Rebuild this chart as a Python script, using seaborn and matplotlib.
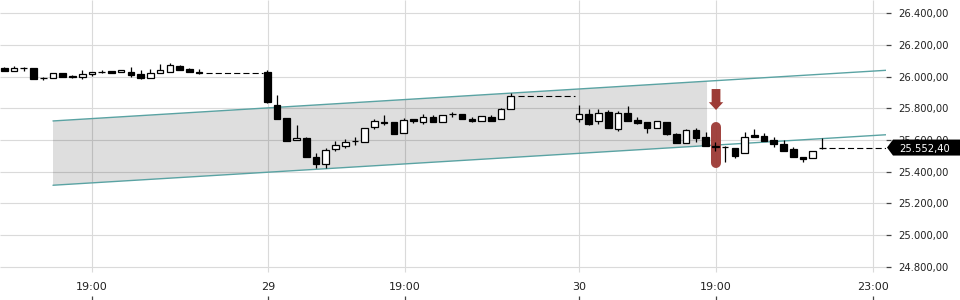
import numpy as np
import pandas as pd
import matplotlib
matplotlib.use("Agg")
import matplotlib.pyplot as plt
import matplotlib.transforms as mtransforms
from matplotlib.patches import Polygon
import seaborn as sns

# ---------------- data ----------------
# candle time slots (trading-time index, gaps = no trading)
slots = list(range(0, 21)) + list(range(27, 53)) + list(range(59, 85))

opens = [26055, 26034, 26055, 26051, 25990, 25988, 26020, 26005, 26000, 26016,
         26030, 26033, 26026, 26027, 26016, 25989, 26022, 26030, 26065, 26045, 26030,
         26026, 25820, 25738, 25598, 25610, 25491, 25447, 25541, 25560, 25592,
         25585, 25680, 25713, 25715, 25644, 25730, 25715, 25745, 25711, 25762,
         25762, 25732, 25721, 25745, 25730, 25793,
         25734, 25764, 25721, 25778, 25668, 25772, 25726, 25711, 25674, 25711,
         25638, 25583, 25663, 25617, 25560, 25558, 25552, 25516, 25631, 25625,
         25600, 25575, 25541, 25491, 25485, 25548]
highs = [26058, 26068, 26057, 26051, 25998, 26020, 26022, 26010, 26040, 26030,
         26038, 26036, 26044, 26060, 26038, 26045, 26080, 26083, 26075, 26051, 26045,
         26040, 25885, 25738, 25694, 25621, 25516, 25548, 25596, 25606, 25617,
         25674, 25730, 25757, 25715, 25736, 25730, 25762, 25759, 25755, 25778,
         25762, 25743, 25749, 25757, 25803, 25894,
         25820, 25795, 25795, 25789, 25782, 25814, 25743, 25711, 25721, 25711,
         25642, 25667, 25674, 25648, 25589, 25560, 25552, 25652, 25667, 25642,
         25617, 25600, 25558, 25491, 25533, 25611]
lows = [26032, 26034, 26032, 25986, 25980, 25988, 25996, 25990, 25985, 26005,
        26025, 26022, 26026, 26000, 25987, 25989, 26022, 26030, 26043, 26030, 26014,
        25830, 25734, 25596, 25598, 25495, 25422, 25422, 25533, 25552, 25570,
        25585, 25667, 25694, 25636, 25644, 25705, 25703, 25715, 25711, 25747,
        25730, 25711, 25721, 25721, 25730, 25793,
        25715, 25694, 25699, 25674, 25659, 25718, 25701, 25642, 25674, 25633,
        25583, 25579, 25589, 25564, 25533, 25460, 25489, 25516, 25617, 25596,
        25556, 25533, 25495, 25464, 25485, 25545]
closes = [26034, 26055, 26055, 25986, 25990, 26020, 25996, 25996, 26016, 26027,
          26030, 26024, 26041, 26008, 25989, 26020, 26038, 26070, 26043, 26030, 26020,
          25837, 25734, 25596, 25612, 25495, 25451, 25537, 25567, 25585, 25594,
          25674, 25718, 25705, 25636, 25728, 25718, 25743, 25715, 25755, 25762,
          25730, 25720, 25749, 25721, 25793, 25880,
          25764, 25701, 25772, 25674, 25772, 25721, 25709, 25677, 25721, 25640,
          25583, 25661, 25613, 25564, 25556, 25556, 25502, 25621, 25617, 25596,
          25575, 25533, 25495, 25479, 25533, 25552.4]

last_price = 25552.4
last_price_label = "25.552,40"

# trend channel (start slot, end slot, prices)
channel_slots = [5.0, 90.5]
channel_upper = [25720, 26039]
channel_lower = [25315, 25633]
channel_fill_end = 72.15

# signal marker
signal_slot = 73.07
signal_bar = [25453, 25684]
signal_arrow = [25921, 25838, 25789]  # shaft top, head base, tip

y_ticks = [24800, 25000, 25200, 25400, 25600, 25800, 26000, 26200, 26400]
y_labels = ["24.800,00", "25.000,00", "25.200,00", "25.400,00", "25.600,00",
            "25.800,00", "26.000,00", "26.200,00", "26.400,00"]
x_tick_pos = [9.0, 27.07, 41.14, 59.0, 73.07, 89.2]
x_tick_labels = ["19:00", "29", "19:00", "30", "19:00", "23:00"]

# ---------------- plot ----------------
sns.set_theme(style="white")
plt.rcParams["font.family"] = ["DejaVu Sans"]

fig = plt.figure(figsize=(9.6, 3.0), dpi=100)
ax = fig.add_axes([0, 0, 886 / 960, 1])

XMIN, XMAX = -0.44, 90.52
YMIN, YMAX = 24592, 26482
ax.set_xlim(XMIN, XMAX)
ax.set_ylim(YMIN, YMAX)

df = pd.DataFrame(dict(slot=slots, open=opens, high=highs, low=lows, close=closes))
up = (df.close >= df.open).values

# grid
ax.hlines(y_ticks, XMIN, XMAX, color="#dadada", lw=0.8, zorder=0.5)
ax.vlines(x_tick_pos, 24770, YMAX, color="#dadada", lw=0.8, zorder=0.5)

# channel fill (translucent gray)
up_end = np.interp(channel_fill_end, channel_slots, channel_upper)
lo_end = np.interp(channel_fill_end, channel_slots, channel_lower)
ax.fill([channel_slots[0], channel_fill_end, channel_fill_end, channel_slots[0]],
        [channel_upper[0], up_end, lo_end, channel_lower[0]],
        color="black", alpha=0.13, lw=0, zorder=1)

# channel lines
sns.lineplot(x=channel_slots, y=channel_upper, ax=ax, color="#5aa3a3", lw=1.0, zorder=2)
sns.lineplot(x=channel_slots, y=channel_lower, ax=ax, color="#5aa3a3", lw=1.0, zorder=2)

# gap dashed lines (last close carried forward)
dash = (0, (5.5, 2.8))
seg_ends = [20, 52]
seg_starts = [27, 59]
for e, s in zip(seg_ends, seg_starts):
    c = df.loc[df.slot == e, "close"].values[0]
    ax.hlines(c, e + 0.7, s - 0.45, color="black", lw=0.8, linestyles=[dash], zorder=3)
ax.hlines(last_price, slots[-1] + 0.7, XMAX, color="black", lw=0.8, linestyles=[dash], zorder=3)

# signal bar and arrow
sig_col = "#9c3a35"
ax.plot([signal_slot, signal_slot], signal_bar, lw=7.2, color=sig_col,
        solid_capstyle="round", zorder=2.5, alpha=0.95)
sw, hw = 0.45, 0.74
arrow = Polygon([[signal_slot - sw, signal_arrow[0]], [signal_slot + sw, signal_arrow[0]],
                 [signal_slot + sw, signal_arrow[1]], [signal_slot + hw, signal_arrow[1]],
                 [signal_slot, signal_arrow[2]], [signal_slot - hw, signal_arrow[1]],
                 [signal_slot - sw, signal_arrow[1]]],
                closed=True, color=sig_col, lw=0, zorder=5)
ax.add_patch(arrow)

# candles
ax.vlines(df.slot, df.low, df.high, color="black", lw=0.9, zorder=3)
ax.bar(df.slot, df.close - df.open, bottom=df.open, width=0.68,
       color=np.where(up, "white", "black"), edgecolor="black", linewidth=0.9, zorder=4)

# axes styling
for sp in ax.spines.values():
    sp.set_visible(False)
ax.yaxis.tick_right()
ax.set_yticks(y_ticks)
ax.set_yticklabels(y_labels)
ax.tick_params(axis="y", which="both", direction="out", length=3.8, width=0.9,
               pad=5, color="#444444", labelsize=7.2, labelcolor="#222222", right=True, left=False)
ax.set_xticks(x_tick_pos)
ax.set_xticklabels(x_tick_labels)
ax.tick_params(axis="x", direction="in", length=3.2, width=0.9, color="#444444",
               pad=-12.8, labelsize=8, labelcolor="#222222", bottom=True)
ax.set_xlabel("")
ax.set_ylabel("")

# last price label
tr = mtransforms.blended_transform_factory(fig.transFigure, ax.transData)
hh = 8 * (YMAX - YMIN) / 300
tag = Polygon([[887 / 960, last_price], [893 / 960, last_price + hh], [1.0, last_price + hh],
               [1.0, last_price - hh], [893 / 960, last_price - hh]],
              closed=True, transform=tr, color="black", lw=0, clip_on=False, zorder=10)
fig.add_artist(tag)
fig.text(899 / 960, 0, last_price_label, transform=tr, color="white", fontsize=7.2,
         va="center_baseline", ha="left", zorder=11)
t = fig.texts[-1]
t.set_position((899 / 960, last_price))

fig.savefig("out.png", dpi=100)
